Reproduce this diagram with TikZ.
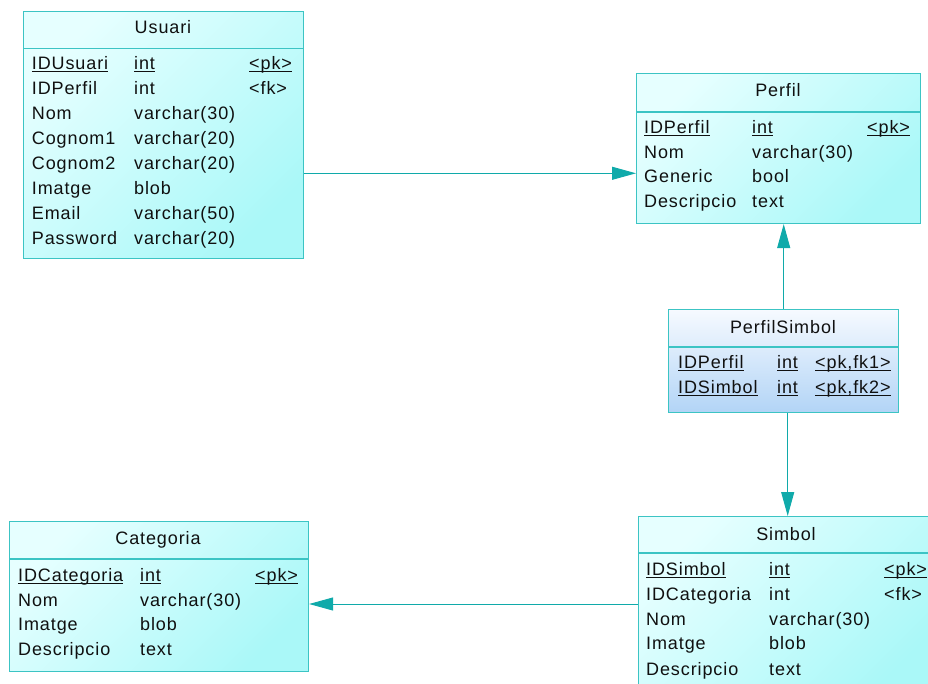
\documentclass[tikz,border=0pt]{standalone}
\usepackage{fontspec}
\setmainfont{Liberation Sans}[LetterSpace=5]
\usetikzlibrary{arrows.meta}
\definecolor{edgec}{HTML}{3CC4C4}
\definecolor{cyA}{HTML}{E6FFFF}
\definecolor{cyB}{HTML}{AAF8F8}
\definecolor{blA}{HTML}{F6FAFF}
\definecolor{blB}{HTML}{B2D4F6}
\definecolor{connc}{HTML}{10AAAA}
\definecolor{ink}{HTML}{101010}
\newcommand\ulbox[1]{\setbox0\hbox{#1}\rlap{\rule[-2.6pt]{\wd0}{1.4pt}}\box0}
\tikzset{
  tbl/.style={draw=edgec, line width=1.1pt, top color=cyA, bottom color=cyB, shading angle=45, inner sep=0pt, anchor=north west},
  tblb/.style={tbl, top color=blA, bottom color=blB},
  hline/.style={draw=edgec, line width=1.1pt},
  txt/.style={anchor=base west, inner sep=0pt, text=ink, font=\fontsize{18}{21}\selectfont},
  ttl/.style={anchor=base, inner sep=0pt, text=ink, font=\fontsize{18}{21}\selectfont},
  rel/.style={draw=connc, line width=1pt, -{Triangle[length=24pt,width=13pt]}}
}
\begin{document}
\begin{tikzpicture}[x=1pt,y=-1pt]
\useasboundingbox (0,0) rectangle (928,684);
\clip (0,0) rectangle (928,684);

% ---------- Usuari ----------
\node[tbl, minimum width=280pt, minimum height=247pt] (usuari) at (23,11) {};
\draw[hline] (usuari.west |- 0,48.7) -- (usuari.east |- 0,48.7);
\node[ttl] (usuariT) at (163,33.5) {Usuari};
\node[txt] (u1a) at (31.7,69.5) {\ulbox{IDUsuari}};
\node[txt] (u1b) at (134,69.5) {\ulbox{int}};
\node[txt] (u1c) at (249,69.5) {\ulbox{<pk>}};
\node[txt] (u2a) at (31.7,94.5) {IDPerfil};
\node[txt] (u2b) at (134,94.5) {int};
\node[txt] (u2c) at (249,94.5) {<fk>};
\node[txt] (u3a) at (31.7,119.5) {Nom};
\node[txt] (u3b) at (134,119.5) {varchar(30)};
\node[txt] (u4a) at (31.7,144.5) {Cognom1};
\node[txt] (u4b) at (134,144.5) {varchar(20)};
\node[txt] (u5a) at (31.7,169.5) {Cognom2};
\node[txt] (u5b) at (134,169.5) {varchar(20)};
\node[txt] (u6a) at (31.7,194.5) {Imatge};
\node[txt] (u6b) at (134,194.5) {blob};
\node[txt] (u7a) at (31.7,219.5) {Email};
\node[txt] (u7b) at (134,219.5) {varchar(50)};
\node[txt] (u8a) at (31.7,244.5) {Password};
\node[txt] (u8b) at (134,244.5) {varchar(20)};

% ---------- Perfil ----------
\node[tbl, minimum width=284pt, minimum height=150pt] (perfil) at (636,73) {};
\draw[hline] (perfil.west |- 0,112) -- (perfil.east |- 0,112);
\node[ttl] (perfilT) at (778,96.5) {Perfil};
\node[txt] (p1a) at (644,133.5) {\ulbox{IDPerfil}};
\node[txt] (p1b) at (752,133.5) {\ulbox{int}};
\node[txt] (p1c) at (867,133.5) {\ulbox{<pk>}};
\node[txt] (p2a) at (644,158.5) {Nom};
\node[txt] (p2b) at (752,158.5) {varchar(30)};
\node[txt] (p3a) at (644,183) {Generic};
\node[txt] (p3b) at (752,183) {bool};
\node[txt] (p4a) at (644,207.5) {Descripcio};
\node[txt] (p4b) at (752,207.5) {text};

% ---------- PerfilSimbol ----------
\node[tblb, minimum width=230pt, minimum height=103pt] (ps) at (668,309) {};
\draw[hline] (ps.west |- 0,347) -- (ps.east |- 0,347);
\node[ttl] (psT) at (783,333.5) {PerfilSimbol};
\node[txt] (s1a) at (678,368.5) {\ulbox{IDPerfil}};
\node[txt] (s1b) at (777,368.5) {\ulbox{int}};
\node[txt] (s1c) at (815,368.5) {\ulbox{<pk,fk1>}};
\node[txt] (s2a) at (678,393.5) {\ulbox{IDSimbol}};
\node[txt] (s2b) at (777,393.5) {\ulbox{int}};
\node[txt] (s2c) at (815,393.5) {\ulbox{<pk,fk2>}};

% ---------- Categoria ----------
\node[tbl, minimum width=299pt, minimum height=150pt] (cat) at (9,521) {};
\draw[hline] (cat.west |- 0,559) -- (cat.east |- 0,559);
\node[ttl] (catT) at (158,544.5) {Categoria};
\node[txt] (c1a) at (18,581.5) {\ulbox{IDCategoria}};
\node[txt] (c1b) at (140,581.5) {\ulbox{int}};
\node[txt] (c1c) at (255,581.5) {\ulbox{<pk>}};
\node[txt] (c2a) at (18,606.5) {Nom};
\node[txt] (c2b) at (140,606.5) {varchar(30)};
\node[txt] (c3a) at (18,630.5) {Imatge};
\node[txt] (c3b) at (140,630.5) {blob};
\node[txt] (c4a) at (18,655) {Descripcio};
\node[txt] (c4b) at (140,655) {text};

% ---------- Simbol ----------
\node[tbl, minimum width=300pt, minimum height=180pt] (simbol) at (638,516) {};
\draw[hline] (simbol.west |- 0,553) -- (simbol.east |- 0,553);
\node[ttl] (simbolT) at (786,540.5) {Simbol};
\node[txt] (b1a) at (646,575.5) {\ulbox{IDSimbol}};
\node[txt] (b1b) at (769,575.5) {\ulbox{int}};
\node[txt] (b1c) at (884,575.5) {\ulbox{<pk>}};
\node[txt] (b2a) at (646,600.5) {IDCategoria};
\node[txt] (b2b) at (769,600.5) {int};
\node[txt] (b2c) at (884,600.5) {<fk>};
\node[txt] (b3a) at (646,625.5) {Nom};
\node[txt] (b3b) at (769,625.5) {varchar(30)};
\node[txt] (b4a) at (646,649.5) {Imatge};
\node[txt] (b4b) at (769,649.5) {blob};
\node[txt] (b5a) at (646,675) {Descripcio};
\node[txt] (b5b) at (769,675) {text};

% ---------- Relationships ----------
\draw[rel] (usuari.east |- 0,173.3) -- (perfil.west |- 0,173.3);
\draw[rel] (ps.north -| 783.7,0) -- (perfil.south -| 783.7,0);
\draw[rel] (ps.south -| 787.7,0) -- (simbol.north -| 787.7,0);
\draw[rel] (simbol.west |- 0,604) -- (cat.east |- 0,604);
\end{tikzpicture}
\end{document}
